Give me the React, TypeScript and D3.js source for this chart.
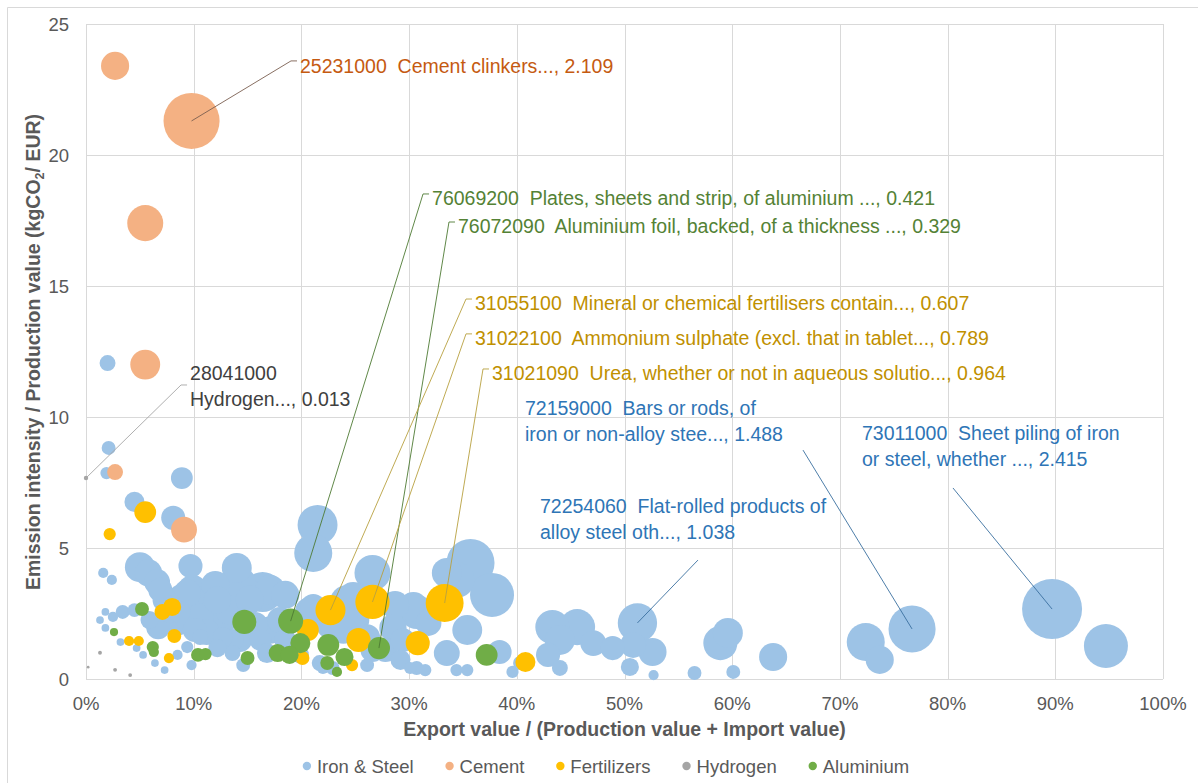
import React, { useRef, useEffect } from "react";
import * as d3 from "d3";

const WIDTH = 1198;
const HEIGHT = 783;
const margin = { top: 24, right: 35, bottom: 104, left: 86 };
const FONT = "'Liberation Sans', Arial, sans-serif";
const TEXT_GREY = "#595959";

interface Bubble {
  x: number; // export share, %
  y: number; // kgCO2 / EUR
  v: number; // bubble value
  code?: string;
}

// Iron & Steel
const ironSteel: Bubble[] = [
  { x: 2.0, y: 12.06, v: 0.17 }, { x: 2.1, y: 8.82, v: 0.13 }, { x: 1.9, y: 7.86, v: 0.1 },
  { x: 8.9, y: 7.67, v: 0.32 }, { x: 4.5, y: 6.76, v: 0.27 }, { x: 8.1, y: 6.15, v: 0.39 },
  { x: 9.7, y: 4.31, v: 0.39 }, { x: 1.6, y: 4.05, v: 0.07 }, { x: 2.4, y: 3.78, v: 0.07 },
  { x: 5.0, y: 4.27, v: 0.6 }, { x: 5.8, y: 4.05, v: 0.5 }, { x: 6.6, y: 3.7, v: 0.45 },
  { x: 3.4, y: 2.56, v: 0.13 }, { x: 2.5, y: 2.37, v: 0.07 }, { x: 1.8, y: 2.56, v: 0.04 },
  { x: 1.3, y: 2.25, v: 0.04 }, { x: 1.8, y: 1.95, v: 0.04 }, { x: 3.2, y: 1.41, v: 0.04 },
  { x: 4.7, y: 1.18, v: 0.04 }, { x: 5.3, y: 0.92, v: 0.04 }, { x: 6.4, y: 0.61, v: 0.04 },
  { x: 7.3, y: 0.34, v: 0.04 }, { x: 8.5, y: 0.92, v: 0.07 }, { x: 9.4, y: 1.22, v: 0.1 },
  { x: 9.8, y: 0.53, v: 0.07 }, { x: 5.9, y: 2.25, v: 0.22 }, { x: 4.5, y: 2.63, v: 0.13 },
  { x: 6.7, y: 1.98, v: 0.39 }, { x: 7.8, y: 2.56, v: 0.32 }, { x: 8.5, y: 2.18, v: 0.5 },
  { x: 9.0, y: 3.02, v: 0.7 }, { x: 9.9, y: 3.4, v: 0.6 }, { x: 9.4, y: 3.28, v: 0.5 },
  { x: 10.6, y: 2.37, v: 0.5 }, { x: 11.2, y: 1.79, v: 0.45 }, { x: 10.6, y: 1.6, v: 0.17 },
  { x: 8.7, y: 2.56, v: 0.32 }, { x: 12.2, y: 1.18, v: 0.22 }, { x: 12.7, y: 1.6, v: 0.27 },
  { x: 13.6, y: 1.49, v: 0.32 }, { x: 13.6, y: 0.99, v: 0.17 }, { x: 14.6, y: 0.53, v: 0.13 },
  { x: 12.4, y: 3.09, v: 0.78 }, { x: 12.7, y: 2.37, v: 0.7 }, { x: 12.2, y: 3.02, v: 0.5 },
  { x: 14.0, y: 4.24, v: 0.6 }, { x: 14.3, y: 3.66, v: 0.7 }, { x: 16.4, y: 3.32, v: 1.07 },
  { x: 17.1, y: 3.4, v: 0.6 }, { x: 17.3, y: 1.87, v: 0.45 }, { x: 16.2, y: 1.49, v: 0.32 },
  { x: 16.8, y: 0.99, v: 0.27 }, { x: 18.0, y: 2.25, v: 0.45 }, { x: 17.1, y: 1.87, v: 0.5 },
  { x: 11.0, y: 3.02, v: 0.53 }, { x: 12.0, y: 3.59, v: 0.53 }, { x: 13.4, y: 2.63, v: 0.6 },
  { x: 15.2, y: 3.02, v: 0.53 }, { x: 15.7, y: 2.06, v: 0.45 }, { x: 14.3, y: 1.49, v: 0.39 },
  { x: 10.1, y: 1.87, v: 0.39 }, { x: 7.3, y: 3.02, v: 0.39 }, { x: 6.9, y: 3.4, v: 0.39 },
  { x: 18.5, y: 3.21, v: 0.53 },
  { x: 21.5, y: 5.88, v: 1.07 }, { x: 21.1, y: 4.81, v: 0.97 }, { x: 20.8, y: 2.56, v: 0.6 },
  { x: 21.1, y: 2.75, v: 0.45 }, { x: 24.8, y: 3.13, v: 0.6 }, { x: 24.2, y: 2.94, v: 0.75 },
  { x: 23.9, y: 1.87, v: 0.5 }, { x: 26.6, y: 4.05, v: 0.87 }, { x: 26.1, y: 1.6, v: 0.45 },
  { x: 26.6, y: 1.11, v: 0.39 }, { x: 28.5, y: 1.95, v: 0.5 }, { x: 29.2, y: 0.73, v: 0.27 },
  { x: 30.4, y: 2.75, v: 0.6 }, { x: 30.7, y: 2.56, v: 0.78 }, { x: 31.8, y: 2.14, v: 0.45 },
  { x: 22.7, y: 2.06, v: 0.53 }, { x: 25.0, y: 2.25, v: 0.53 }, { x: 28.7, y: 2.82, v: 0.53 },
  { x: 27.8, y: 1.11, v: 0.39 },
  { x: 21.7, y: 0.61, v: 0.17 }, { x: 22.9, y: 0.42, v: 0.13 }, { x: 22.0, y: 0.42, v: 0.1 },
  { x: 26.1, y: 0.53, v: 0.13 }, { x: 30.1, y: 0.42, v: 0.1 }, { x: 30.7, y: 0.42, v: 0.13 },
  { x: 19.9, y: 0.92, v: 0.2 }, { x: 18.5, y: 1.49, v: 0.32 }, { x: 35.7, y: 4.43, v: 1.55 },
  { x: 34.4, y: 3.78, v: 0.87 }, { x: 33.5, y: 4.05, v: 0.6 }, { x: 37.7, y: 3.21, v: 1.3 },
  { x: 35.4, y: 1.87, v: 0.6 }, { x: 33.5, y: 0.99, v: 0.45 }, { x: 38.4, y: 1.03, v: 0.39 },
  { x: 34.4, y: 0.34, v: 0.1 }, { x: 35.4, y: 0.34, v: 0.1 }, { x: 31.5, y: 0.34, v: 0.1 },
  { x: 39.6, y: 0.27, v: 0.1 }, { x: 40.3, y: 0.61, v: 0.13 }, { x: 29.4, y: 1.49, v: 0.39 },
  { x: 43.3, y: 1.98, v: 0.78 }, { x: 45.6, y: 1.98, v: 0.87 }, { x: 44.0, y: 1.49, v: 0.6 },
  { x: 42.9, y: 0.92, v: 0.39 }, { x: 44.0, y: 0.42, v: 0.17 }, { x: 47.1, y: 1.37, v: 0.45 },
  { x: 48.9, y: 1.18, v: 0.39 }, { x: 51.2, y: 2.14, v: 1.038, code: "72254060" },
  { x: 50.8, y: 1.3, v: 0.45 }, { x: 52.6, y: 1.03, v: 0.53 }, { x: 50.5, y: 0.46, v: 0.22 },
  { x: 52.7, y: 0.15, v: 0.07 }, { x: 56.5, y: 0.23, v: 0.13 }, { x: 58.9, y: 1.37, v: 0.78 },
  { x: 59.6, y: 1.76, v: 0.6 }, { x: 60.1, y: 0.27, v: 0.13 }, { x: 63.8, y: 0.84, v: 0.53 },
  { x: 72.4, y: 1.41, v: 0.97 }, { x: 73.7, y: 0.73, v: 0.53 },
  { x: 76.7, y: 1.91, v: 1.488, code: "72159000" },
  { x: 89.7, y: 2.67, v: 2.415, code: "73011000" },
  { x: 94.7, y: 1.26, v: 1.3 },
];

// Cement
const cement: Bubble[] = [
  { x: 2.7, y: 23.4, v: 0.53 },
  { x: 9.8, y: 21.3, v: 2.109, code: "25231000" },
  { x: 5.5, y: 17.4, v: 0.87 },
  { x: 5.5, y: 12.0, v: 0.6 },
  { x: 9.1, y: 5.7, v: 0.45 },
  { x: 2.7, y: 7.9, v: 0.17 },
];

// Fertilizers
const fertilizers: Bubble[] = [
  { x: 2.2, y: 5.53, v: 0.1 }, { x: 5.5, y: 6.37, v: 0.32 }, { x: 7.1, y: 2.56, v: 0.17 },
  { x: 8.0, y: 2.75, v: 0.22 }, { x: 8.2, y: 1.64, v: 0.13 }, { x: 4.0, y: 1.45, v: 0.07 },
  { x: 4.9, y: 1.45, v: 0.07 }, { x: 7.7, y: 0.8, v: 0.07 }, { x: 20.1, y: 0.8, v: 0.13 },
  { x: 20.6, y: 1.87, v: 0.32 }, { x: 24.7, y: 0.53, v: 0.1 },
  { x: 22.7, y: 2.63, v: 0.607, code: "31055100" },
  { x: 26.6, y: 2.94, v: 0.789, code: "31022100" },
  { x: 33.3, y: 2.9, v: 0.964, code: "31021090" },
  { x: 25.3, y: 1.49, v: 0.39 }, { x: 30.8, y: 1.37, v: 0.39 }, { x: 40.8, y: 0.65, v: 0.27 },
];

// Hydrogen
const hydrogen: Bubble[] = [
  { x: 0.0, y: 7.67, v: 0.013, code: "28041000" },
  { x: 1.3, y: 1.0, v: 0.01 }, { x: 2.7, y: 0.35, v: 0.01 },
  { x: 4.1, y: 0.15, v: 0.01 }, { x: 0.2, y: 0.45, v: 0.005 },
];

// Aluminium
const aluminium: Bubble[] = [
  { x: 5.2, y: 2.67, v: 0.13 }, { x: 2.6, y: 1.79, v: 0.045 }, { x: 6.2, y: 1.22, v: 0.1 },
  { x: 6.3, y: 1.03, v: 0.07 }, { x: 10.4, y: 0.92, v: 0.13 }, { x: 11.1, y: 0.95, v: 0.1 },
  { x: 14.7, y: 2.18, v: 0.39 }, { x: 15.0, y: 0.8, v: 0.13 }, { x: 17.8, y: 0.99, v: 0.22 },
  { x: 18.9, y: 0.92, v: 0.22 },
  { x: 19.0, y: 2.21, v: 0.421, code: "76069200" },
  { x: 19.9, y: 1.37, v: 0.27 }, { x: 22.5, y: 1.3, v: 0.32 }, { x: 22.4, y: 0.61, v: 0.13 },
  { x: 23.3, y: 0.27, v: 0.07 }, { x: 24.0, y: 0.84, v: 0.22 },
  { x: 27.2, y: 1.18, v: 0.329, code: "76072090" },
  { x: 37.2, y: 0.92, v: 0.32 },
];

const sectors = [
  { name: "Iron & Steel", color: "#9DC3E6", label: "#2E75B6", lead: "#3a6f9f", data: ironSteel },
  { name: "Cement", color: "#F4B183", label: "#C55A11", lead: "#7a5f50", data: cement },
  { name: "Fertilizers", color: "#FFC000", label: "#BF9000", lead: "#b8a040", data: fertilizers },
  { name: "Hydrogen", color: "#A5A5A5", label: "#404040", lead: "#a6a6a6", data: hydrogen },
  { name: "Aluminium", color: "#70AD47", label: "#548235", lead: "#4e7a33", data: aluminium },
];

// label text, label position (data units: left edge % / first line value), leader attach
interface Note {
  code: string;
  lines: string[];
  lx: number;
  ly: number;
  elbow?: number; // leader meets label at its left, dy px
  attach?: [number, number]; // leader meets label at this px offset
}

const notes: Note[] = [
  { code: "25231000", lines: ["25231000  Cement clinkers..., 2.109"], lx: 19.87, ly: 23.4, elbow: -5 },
  { code: "28041000", lines: ["28041000", "Hydrogen..., 0.013"], lx: 9.66, ly: 11.68, elbow: 12 },
  { code: "76069200", lines: ["76069200  Plates, sheets and strip, of aluminium ..., 0.421"], lx: 32.13, ly: 18.36, elbow: -4 },
  { code: "76072090", lines: ["76072090  Aluminium foil, backed, of a thickness ..., 0.329"], lx: 34.54, ly: 17.29, elbow: -4 },
  { code: "31055100", lines: ["31055100  Mineral or chemical fertilisers contain..., 0.607"], lx: 36.12, ly: 14.35, elbow: -4 },
  { code: "31022100", lines: ["31022100  Ammonium sulphate (excl. that in tablet..., 0.789"], lx: 36.12, ly: 13.02, elbow: -4 },
  { code: "31021090", lines: ["31021090  Urea, whether or not in aqueous solutio..., 0.964"], lx: 37.7, ly: 11.68, elbow: -4 },
  { code: "72159000", lines: ["72159000  Bars or rods, of", "iron or non-alloy stee..., 1.488"], lx: 40.76, ly: 10.34, attach: [278, 42] },
  { code: "72254060", lines: ["72254060  Flat-rolled products of", "alloy steel oth..., 1.038"], lx: 42.15, ly: 6.6, attach: [158, 54] },
  { code: "73011000", lines: ["73011000  Sheet piling of iron", "or steel, whether ..., 2.415"], lx: 72.05, ly: 9.39, attach: [91, 55] },
];

const xTicks = d3.range(0, 101, 10);
const yTicks = [0, 5, 10, 15, 20, 25];

const BubbleChart: React.FC = () => {
  const svgRef = useRef<SVGSVGElement | null>(null);

  useEffect(() => {
    if (!svgRef.current) return;
    const svg = d3.select(svgRef.current);
    svg.selectAll("*").remove();

    const x = d3.scaleLinear().domain([0, 100]).range([margin.left, WIDTH - margin.right]);
    const y = d3.scaleLinear().domain([0, 25]).range([HEIGHT - margin.bottom, margin.top]);
    const r = d3.scaleSqrt().domain([0, 2.415]).range([0, 30]);

    // chart frame (left + top visible)
    svg.append("path")
      .attr("d", `M7.5,${HEIGHT}V7.5H${WIDTH}`)
      .attr("fill", "none")
      .attr("stroke", "#d9d9d9");

    const grid = svg.append("g").attr("stroke", "#d9d9d9").attr("stroke-width", 1);
    grid.selectAll(".vx").data(xTicks).enter().append("line")
      .attr("x1", (d) => Math.round(x(d)) + 0.5).attr("x2", (d) => Math.round(x(d)) + 0.5)
      .attr("y1", y(0)).attr("y2", y(25));
    grid.selectAll(".hy").data(yTicks).enter().append("line")
      .attr("y1", (d) => Math.round(y(d)) + 0.5).attr("y2", (d) => Math.round(y(d)) + 0.5)
      .attr("x1", x(0)).attr("x2", x(100));

    // tick labels
    svg.append("g").selectAll("text").data(xTicks).enter().append("text")
      .attr("x", (d) => x(d)).attr("y", y(0) + 31)
      .attr("text-anchor", "middle")
      .attr("font-family", FONT).attr("font-size", 18.5).attr("fill", TEXT_GREY)
      .text((d) => `${d}%`);
    svg.append("g").selectAll("text").data(yTicks).enter().append("text")
      .attr("x", margin.left - 17).attr("y", (d) => y(d) + 6.5)
      .attr("text-anchor", "end")
      .attr("font-family", FONT).attr("font-size", 18.5).attr("fill", TEXT_GREY)
      .text((d) => d);

    // axis titles
    svg.append("text")
      .attr("x", (x(0) + x(100)) / 2).attr("y", y(0) + 57)
      .attr("text-anchor", "middle")
      .attr("font-family", FONT).attr("font-size", 19.5).attr("font-weight", "bold").attr("fill", TEXT_GREY)
      .text("Export value / (Production value + Import value)");
    const yt = svg.append("text")
      .attr("transform", `translate(40, 352) rotate(-90)`)
      .attr("text-anchor", "middle")
      .attr("font-family", FONT).attr("font-size", 19.5).attr("font-weight", "bold").attr("fill", TEXT_GREY);
    yt.append("tspan").text("Emission intensity / Production value (kgCO");
    yt.append("tspan").attr("font-size", 12.5).attr("dy", 4).text("2");
    yt.append("tspan").attr("dy", -4).text("/ EUR)");

    // bubbles, series in order, larger first within a series
    sectors.forEach((s) => {
      const sorted = [...s.data].sort((a, b) => b.v - a.v);
      svg.append("g").selectAll("circle").data(sorted).enter().append("circle")
        .attr("cx", (d) => x(d.x)).attr("cy", (d) => y(d.y))
        .attr("r", (d) => r(d.v))
        .attr("fill", s.color);
    });

    // data labels with leader lines
    const noteG = svg.append("g");
    notes.forEach((n) => {
      const s = sectors.find((q) => q.data.some((d) => d.code === n.code))!;
      const p = s.data.find((d) => d.code === n.code)!;
      const px = x(p.x), py = y(p.y);
      const tx = x(n.lx), ty = y(n.ly);
      let pts: [number, number][];
      if (n.attach) {
        pts = [[px, py], [tx + n.attach[0], ty + n.attach[1]]];
      } else {
        const e = n.elbow ?? 0;
        pts = [[px, py], [tx - 9, ty + e], [tx - 3, ty + e]];
      }
      noteG.append("path")
        .attr("d", d3.line()(pts))
        .attr("fill", "none")
        .attr("stroke", s.lead)
        .attr("stroke-width", 0.9);
      const t = noteG.append("text")
        .attr("font-family", FONT).attr("font-size", 19.5).attr("fill", s.label)
        .style("white-space", "pre");
      n.lines.forEach((line, i) => {
        t.append("tspan").attr("x", tx).attr("y", ty + 7 + i * 26).text(line);
      });
    });

    // legend, centred on the chart area
    const legend = svg.append("g");
    let cx = 0;
    sectors.forEach((s) => {
      legend.append("circle").attr("cx", cx + 4).attr("cy", 0).attr("r", 4.2).attr("fill", s.color);
      const t = legend.append("text")
        .attr("x", cx + 14).attr("y", 6.5)
        .attr("font-family", FONT).attr("font-size", 18.5).attr("fill", TEXT_GREY)
        .text(s.name);
      cx += 14 + (t.node() as SVGTextElement).getComputedTextLength() + 32;
    });
    const legendW = cx - 32;
    legend.attr("transform", `translate(${606 - legendW / 2}, 766)`);
  }, []);

  return <svg ref={svgRef} width={WIDTH} height={HEIGHT} style={{ display: "block", background: "#fff" }}></svg>;
};

export default function App() {
  return (
    <>
      <style>{`body{margin:0}`}</style>
      <BubbleChart />
    </>
  );
}
